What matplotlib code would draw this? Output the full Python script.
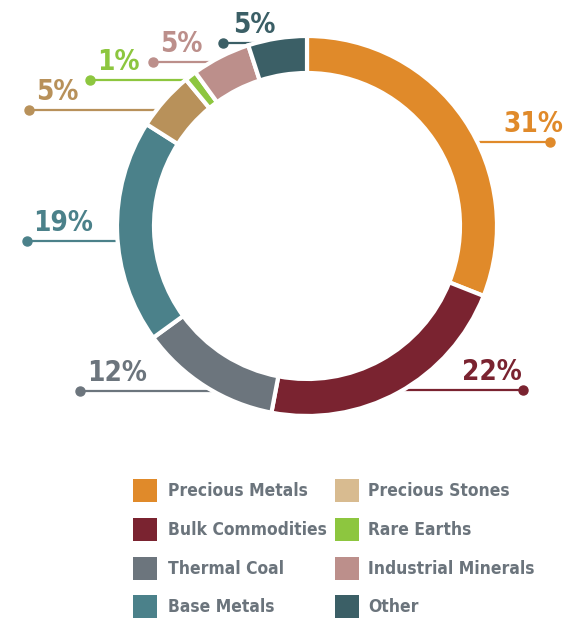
import matplotlib
matplotlib.use("Agg")
import numpy as np
import matplotlib.pyplot as plt
from matplotlib.patches import Rectangle

categories = ["Precious Metals", "Bulk Commodities", "Thermal Coal", "Base Metals",
              "Precious Stones", "Rare Earths", "Industrial Minerals", "Other"]
shares = [31, 22, 12, 19, 5, 1, 5, 5]
ring_colors = ["#E08A2A", "#7A2330", "#6C757D", "#4B818A",
               "#B8915A", "#8DC63F", "#BC8F8B", "#3B5F66"]
legend_colors = ["#E08A2A", "#7A2330", "#6C757D", "#4B818A",
                 "#D8BB90", "#8DC63F", "#BC8F8B", "#3B5F66"]
label_colors = ["#E08A2A", "#7A2330", "#6C757D", "#4B818A",
                "#B8915A", "#8DC63F", "#BC8F8B", "#3B5F66"]

W, H = 571, 622

# leader line layout in pixel units (y measured from top): line y, dot x, text x
leaders = [
    (142, 550, 503),
    (390, 523, 462),
    (391, 80, 87),
    (241, 27, 33),
    (110, 29, 36),
    (80, 90, 97),
    (62, 153, 160),
    (43, 223, 233),
]

fig = plt.figure(figsize=(W / 100, H / 100), dpi=100)
ax = fig.add_axes([0, 0, 1, 1])

cx, cy_top = 307, 226
R, ring_w = 190, 37
cy = H - cy_top

wedges, _ = ax.pie(shares, colors=ring_colors, startangle=90, counterclock=False,
                   center=(cx, cy), radius=R, frame=True,
                   wedgeprops=dict(width=ring_w, edgecolor="white", linewidth=3))
for w in wedges:
    w.set_zorder(3)

ax.set_xlim(0, W)
ax.set_ylim(0, H)
ax.set_aspect("equal")
ax.axis("off")

txt = dict(family="DejaVu Sans", fontstretch="condensed", fontweight="bold")

for val, col, (ly, dot_x, tx) in zip(shares, label_colors, leaders):
    y = H - ly
    dy = abs(ly - cy_top)
    half = np.sqrt(max(R ** 2 - dy ** 2, 0))
    end_x = cx + half - 4 if dot_x > cx else cx - half + 4
    ax.plot([dot_x, end_x], [y, y], color=col, lw=1.6, zorder=2, solid_capstyle="butt")
    ax.plot(dot_x, y, "o", color=col, ms=6.5, zorder=2)
    ax.text(tx, y + 10, f"{val}%", color=col, fontsize=20, ha="left",
            va="baseline", zorder=4, **txt)

# legend, two columns of four
row_y = [491, 530, 569, 607]
col_x = [(133, 168), (335, 368)]
for i, (name, col) in enumerate(zip(categories, legend_colors)):
    sx, tx = col_x[i // 4]
    y = H - row_y[i % 4]
    ax.add_patch(Rectangle((sx, y - 11), 24, 23, facecolor=col, edgecolor="none"))
    ax.text(tx, y, name, color="#6B747C", fontsize=12.5, ha="left",
            va="center", **txt)

fig.savefig("out.png", dpi=100, facecolor="white")
